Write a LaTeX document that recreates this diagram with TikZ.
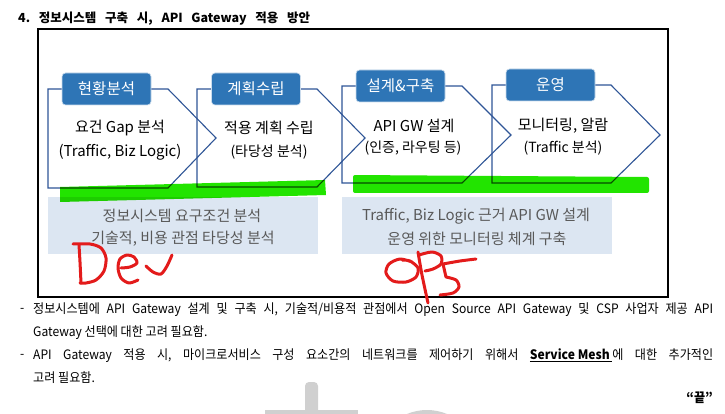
\documentclass[tikz,border=0pt]{standalone}
\usepackage{fontspec}
\setmainfont{Noto Sans CJK KR}
\newfontfamily\narrowkr[FakeStretch=0.93]{Noto Sans CJK KR}
\definecolor{chev}{HTML}{2F5597}
\definecolor{lab}{HTML}{2E75B6}
\definecolor{lightbox}{HTML}{DCE6F2}
\definecolor{graytext}{HTML}{595959}
\definecolor{hl}{RGB}{34,228,0}
\definecolor{pen}{HTML}{E31B1B}
\definecolor{wm}{HTML}{D0D0D0}
\frenchspacing
\begin{document}
\begin{tikzpicture}[x=1pt,y=-1pt,
  chevron/.style={draw=chev, line width=1.1pt, line join=miter},
  tag/.style={fill=lab, draw=white!75!lab, line width=0.6pt, rounded corners=3.5pt, text=white,
    font=\fontsize{15.5}{18}\selectfont, minimum width=89pt, minimum height=32pt, inner sep=0pt},
  mainline/.style={font=\fontsize{15}{17}\selectfont, inner sep=0pt},
  subline/.style={font=\fontsize{14}{16}\selectfont, inner sep=0pt},
  notebox/.style={fill=lightbox, draw=none, minimum width=270pt, minimum height=57pt, inner sep=0pt},
  notetext/.style={text=graytext, font=\fontsize{15}{17}\selectfont, inner sep=0pt},
  body/.style={font=\narrowkr\fontsize{13}{15}\selectfont, inner sep=0pt, anchor=west},
  hand/.style={draw=pen, line width=3pt, line cap=round, line join=round},
  hilite/.style={fill=hl}]
\useasboundingbox (0,0) rectangle (725,414);
\fill[white] (0,0) rectangle (725,414);

% watermark
\begin{scope}
\clip (0,0) rectangle (725,414);
\fill[wm, rounded corners=4pt] (305,382) rectangle (318,425);
\fill[wm] (265,410) rectangle (358,425);
\fill[wm] (427,462) circle (52);
\end{scope}

% title
\node[anchor=west, inner sep=0pt, font=\bfseries\fontsize{12.5}{15}\selectfont] (title) at (18,19)
  {\makebox[292pt][s]{4. 정보시스템 구축 시, API Gateway 적용 방안}};

% frame
\draw[line width=1.2pt] (38,29) rectangle (668,297);

% light boxes
\node[notebox] (n1) at (183,225.5) {};
\node[notebox] (n2) at (477,225.5) {};
\node[notetext] (n1a) at (182,216) {정보시스템 요구조건 분석};
\node[notetext] (n1b) at (183,239) {기술적, 비용 관점 타당성 분석};
\node[notetext] (n2a) at (476,216) {Traffic, Biz Logic 근거 API GW 설계};
\node[notetext] (n2b) at (477,239) {운영 위한 모니터링 체계 구축};

% chevrons
\draw[chevron] (48,89) -- (168,89) -- (216,138) -- (168,188) -- (48,188) -- cycle;
\draw[chevron] (197,89) -- (317,89) -- (365,138) -- (317,187) -- (197,187) -- cycle;
\draw[chevron] (342,86) -- (462,86) -- (511,135) -- (462,183) -- (342,183) -- cycle;
\draw[chevron] (492,85) -- (611,85) -- (660,135) -- (611,183) -- (492,183) -- cycle;

% green highlighter
\begin{scope}[blend mode=multiply]
\fill[hilite] (60,187) -- (325,180) -- (326,195) -- (60,202) -- cycle;
\fill[hilite, rounded corners=2pt] (353,175) -- (649,177) -- (649,193) -- (353,193) -- cycle;
\end{scope}

% tags
\node[tag] (t1) at (106.5,89) {현황분석};
\node[tag] (t2) at (256,89) {계획수립};
\node[tag] (t3) at (400.5,86) {설계\&구축};
\node[tag] (t4) at (550.5,85) {운영};

% chevron texts
\node[mainline] (c1a) at (120,128) {요건 Gap 분석};
\node[subline, font=\fontsize{15}{17}\selectfont] (c1b) at (120,152) {(Traffic, Biz Logic)};
\node[mainline] (c2a) at (269,128) {적용 계획 수립};
\node[subline] (c2b) at (269,152) {(타당성 분석)};
\node[mainline] (c3a) at (414,126) {API GW 설계};
\node[subline] (c3b) at (413,148) {(인증, 라우팅 등)};
\node[mainline] (c4a) at (563,126) {모니터링, 알람};
\node[subline] (c4b) at (563,148) {(Traffic 분석)};

% bottom text
\node[body] (d1) at (20,310) {-};
\node[body] (l1) at (33,310) {\makebox[680pt][s]{정보시스템에 API Gateway 설계 및 구축 시, 기술적/비용적 관점에서 Open Source API Gateway 및 CSP 사업자 제공 API}};
\node[body] (l2) at (33,333) {Gateway 선택에 대한 고려 필요함.};
\node[body] (d2) at (20,356) {-};
\node[body] (l3) at (33,356) {\makebox[680pt][s]{API Gateway 적용 시, 마이크로서비스 구성 요소간의 네트워크를 제어하기 위해서 \underline{\textbf{Service Mesh}\ }에 대한 추가적인}};
\node[body] (l4) at (33,378) {고려 필요함.};
\node[body, anchor=east] (fin) at (713,398) {\textbf{“끝”}};

% handwriting Dev
\draw[hand] plot[smooth] coordinates {(79,245) (80,262) (81,283)};
\draw[hand] plot[smooth] coordinates {(73,244) (90,244) (101,248) (106,258) (104,271) (96,280) (86,283) (80,283)};
\draw[hand] plot[smooth] coordinates {(121,268) (130,267) (137,263) (134,257) (127,255) (120,259) (118,268) (121,278) (129,283) (138,280)};
\draw[hand] plot[smooth] coordinates {(146,266) (153,272) (161,274) (167,266) (172,255)};
% handwriting OPS
\draw[hand] plot[smooth] coordinates {(412,262) (400,259) (389,264) (386,273) (393,281) (406,282) (416,277) (418,268) (410,261) (402,260)};
\draw[hand] plot[smooth] coordinates {(418,252) (422,275) (428,303)};
\draw[hand] plot[smooth] coordinates {(419,255) (432,252) (441,256) (441,264) (433,269) (425,271)};
\draw[hand] plot[smooth] coordinates {(476,259) (460,261) (443,264)};
\draw[hand] (443,264) -- (446,277);
\draw[hand] plot[smooth] coordinates {(446,277) (456,280) (459,287) (453,293) (440,295)};
\end{tikzpicture}
\end{document}
